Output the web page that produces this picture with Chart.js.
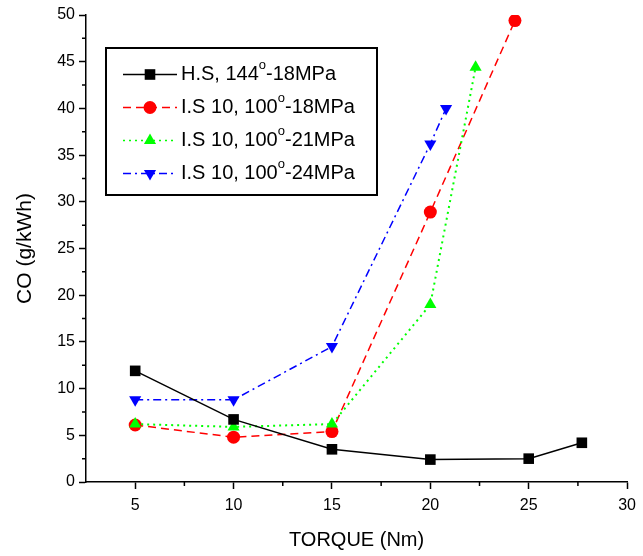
<!DOCTYPE html>
<html>
<head>
<meta charset="utf-8">
<script src="https://cdn.jsdelivr.net/npm/chart.js@4.4.1/dist/chart.umd.min.js"></script>
<style>
  body { margin: 0; background: #fff; }
  #myChart { display: block; }
</style>
</head>
<body>
<canvas id="myChart" width="643" height="556"></canvas>
<script>
// data
const torqueHS = [5, 10, 15, 20, 25, 27.7];
const coHS = [11.9, 6.7, 3.5, 2.4, 2.5, 4.2];
const torque18 = [5, 10, 15, 20, 24.3];
const co18 = [6.1, 4.8, 5.4, 28.9, 49.4];
const torque21 = [5, 10, 15, 20, 22.3];
const co21 = [6.2, 5.9, 6.2, 19.0, 44.4];
const torque24 = [5, 10, 15, 20, 20.8];
const co24 = [8.8, 8.8, 14.5, 36.2, 40.0];

const seriesNames = ['H.S, 144^o-18MPa', 'I.S 10, 100^o-18MPa', 'I.S 10, 100^o-21MPa', 'I.S 10, 100^o-24MPa'];
const xTickValues = [5, 10, 15, 20, 25, 30];
const yTickValues = [0, 5, 10, 15, 20, 25, 30, 35, 40, 45, 50];

const ctx = document.getElementById('myChart');
const FONT = 'Arial, "Liberation Sans", sans-serif';

function pts(xs, ys) {
  return xs.map((x, i) => ({ x: x, y: ys[i] }));
}

// minor ticks + legend box, drawn on top
const extras = {
  id: 'extras',
  afterDraw(chart) {
    const c = chart.ctx;
    const xs = chart.scales.x, ys = chart.scales.y;
    c.save();
    c.strokeStyle = '#000';
    c.lineWidth = 1.5;
    c.beginPath();
    for (let v = 7.5; v < 30; v += 5) {
      const px = xs.getPixelForValue(v);
      c.moveTo(px, xs.top);
      c.lineTo(px, xs.top + 4);
    }
    for (let v = 2.5; v < 50; v += 5) {
      const py = ys.getPixelForValue(v);
      c.moveTo(ys.right, py);
      c.lineTo(ys.right - 4, py);
    }
    c.stroke();

    // legend
    c.lineWidth = 2;
    c.strokeRect(106, 48, 271, 147);
    chart.data.datasets.forEach((ds, i) => {
      const y = 74.5 + i * 33;
      c.save();
      c.strokeStyle = ds.borderColor;
      c.lineWidth = 1.5;
      c.setLineDash(ds.borderDash || []);
      c.beginPath();
      c.moveTo(123, y);
      c.lineTo(177, y);
      c.stroke();
      c.restore();
      drawMarker(c, ds, 150, y);
      const parts = seriesNames[i].split('^o');
      c.fillStyle = '#000';
      c.textBaseline = 'middle';
      c.font = '20px ' + FONT;
      let tx = 181;
      c.fillText(parts[0], tx, y);
      tx += c.measureText(parts[0]).width;
      c.font = '13px ' + FONT;
      c.fillText('o', tx, y - 9);
      tx += c.measureText('o').width;
      c.font = '20px ' + FONT;
      c.fillText(parts[1], tx, y);
    });
    c.restore();
  }
};

function drawMarker(c, ds, x, y) {
  const r = ds.pointRadius;
  c.save();
  c.fillStyle = ds.pointBackgroundColor;
  c.beginPath();
  if (ds.pointStyle === 'rect') {
    const s = r * Math.SQRT1_2;
    c.rect(x - s, y - s, 2 * s, 2 * s);
  } else if (ds.pointStyle === 'circle') {
    c.arc(x, y, r, 0, Math.PI * 2);
  } else {
    const dir = ds.pointRotation === 180 ? -1 : 1;
    c.moveTo(x, y - dir * r);
    c.lineTo(x + Math.sin(2 * Math.PI / 3) * r, y + dir * r / 2);
    c.lineTo(x - Math.sin(2 * Math.PI / 3) * r, y + dir * r / 2);
    c.closePath();
  }
  c.fill();
  c.restore();
}

new Chart(ctx, {
  type: 'line',
  data: {
    datasets: [{
      label: seriesNames[0],
      data: pts(torqueHS, coHS),
      borderColor: '#000000',
      pointBackgroundColor: '#000000',
      pointBorderWidth: 0,
      pointStyle: 'rect',
      pointRadius: 7.5,
      borderWidth: 1.5,
      order: 1
    }, {
      label: seriesNames[1],
      data: pts(torque18, co18),
      borderColor: '#ff0000',
      pointBackgroundColor: '#ff0000',
      pointBorderWidth: 0,
      pointStyle: 'circle',
      pointRadius: 6.5,
      borderWidth: 1.5,
      borderDash: [8, 5],
      order: 3
    }, {
      label: seriesNames[2],
      data: pts(torque21, co21),
      borderColor: '#00ff00',
      pointBackgroundColor: '#00ff00',
      pointBorderWidth: 0,
      pointStyle: 'triangle',
      pointRadius: 7,
      borderWidth: 2,
      borderDash: [2, 4],
      order: 2
    }, {
      label: seriesNames[3],
      data: pts(torque24, co24),
      borderColor: '#0000ff',
      pointBackgroundColor: '#0000ff',
      pointBorderWidth: 0,
      pointStyle: 'triangle',
      pointRotation: 180,
      pointRadius: 7,
      borderWidth: 1.5,
      borderDash: [8, 4, 2, 4],
      order: 4
    }]
  },
  options: {
    responsive: false,
    devicePixelRatio: 1,
    animation: false,
    layout: { padding: { left: 0, top: 15, right: 12, bottom: 0 } },
    plugins: {
      legend: { display: false },
      tooltip: { enabled: false }
    },
    scales: {
      x: {
        type: 'linear',
        min: 2.5,
        max: 30,
        afterBuildTicks: (s) => { s.ticks = xTickValues.map(v => ({ value: v })); },
        afterFit: (s) => { s.height = 74; },
        border: { color: '#000', width: 1.5 },
        grid: { drawOnChartArea: false, tickLength: 7, tickColor: '#000', tickWidth: 1.5 },
        ticks: { color: '#000', font: { family: FONT, size: 16 }, padding: 7, maxRotation: 0 },
        title: { display: true, text: 'TORQUE (Nm)', color: '#000', font: { family: FONT, size: 20 }, padding: { top: 0, bottom: 4 } }
      },
      y: {
        min: 0,
        max: 50,
        afterBuildTicks: (s) => { s.ticks = yTickValues.map(v => ({ value: v })); },
        afterFit: (s) => { s.width = 86; },
        border: { color: '#000', width: 1.5 },
        grid: { drawOnChartArea: false, tickLength: 7, tickColor: '#000', tickWidth: 1.5 },
        ticks: { color: '#000', font: { family: FONT, size: 16 }, padding: 4 },
        title: { display: true, text: 'CO (g/kWh)', color: '#000', font: { family: FONT, size: 21 }, padding: { top: 13, bottom: 0 } }
      }
    }
  },
  plugins: [extras]
});
</script>
</body>
</html>
